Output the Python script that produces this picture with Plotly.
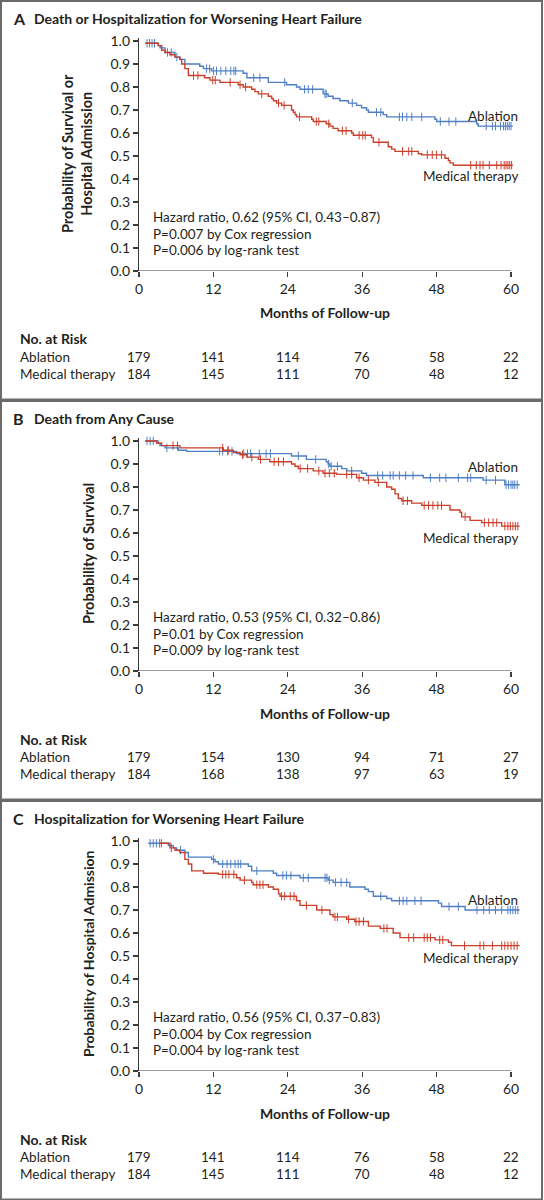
import numpy as np
import plotly.graph_objects as go

# ---------------- data ----------------
month_ticks = [0, 12, 24, 36, 48, 60]
prob_ticks = [0.0, 0.1, 0.2, 0.3, 0.4, 0.5, 0.6, 0.7, 0.8, 0.9, 1.0]
group_names = ["Ablation", "Medical therapy"]

# Panel A: Death or Hospitalization for Worsening Heart Failure
a_abl_t = [1.0, 3.1, 3.4, 4.2, 5.8, 6.6, 7.4, 9.8, 10.4, 11.7, 16.8, 17.4, 20.86, 23.8, 25.4, 25.97,
           29.7, 30.5, 31.3, 32.4, 33.77, 35.1, 35.9, 36.7, 37.0, 39.4, 39.95, 47.74, 48.0, 54.46,
           54.7, 60.3]
a_abl_s = [0.99, 0.98, 0.97, 0.95, 0.93, 0.92, 0.90, 0.89, 0.88, 0.87, 0.86, 0.84, 0.82, 0.81, 0.80,
           0.79, 0.77, 0.76, 0.75, 0.74, 0.73, 0.72, 0.71, 0.70, 0.69, 0.68, 0.67, 0.66, 0.65, 0.64,
           0.63, 0.63]
a_abl_c = [1.3, 1.7, 2.1, 2.5, 4.6, 5.2, 6.1, 10.9, 11.4, 12.0, 12.5, 13.2, 14.0, 14.8, 15.3, 15.6,
           18.5, 19.5, 23.5, 26.7, 27.3, 28.0, 30.0, 30.2, 34.4, 38.3, 39.0, 42.0, 42.5, 43.2, 44.0,
           45.6, 48.6, 50.0, 51.1, 56.0, 57.0, 57.5, 58.3, 58.8, 59.1, 59.4, 59.7, 60.0]
a_med_t = [1.0, 3.1, 3.66, 4.2, 5.0, 5.8, 6.6, 6.88, 7.4, 7.96, 10.6, 11.45, 13.06, 16.0, 16.8,
           18.17, 18.7, 19.25, 20.86, 21.4, 21.67, 22.2, 23.0, 24.6, 24.9, 25.16, 25.4, 27.85, 28.1,
           30.2, 30.8, 31.3, 32.1, 34.3, 34.57, 37.5, 37.8, 40.2, 40.75, 41.3, 45.05, 45.6, 49.35,
           49.9, 50.16, 50.7, 60.3]
a_med_s = [0.99, 0.98, 0.96, 0.95, 0.94, 0.93, 0.92, 0.90, 0.88, 0.85, 0.84, 0.83, 0.82, 0.81, 0.80,
           0.79, 0.78, 0.77, 0.76, 0.75, 0.74, 0.73, 0.72, 0.70, 0.69, 0.68, 0.67, 0.66, 0.65, 0.64,
           0.63, 0.62, 0.61, 0.60, 0.59, 0.58, 0.56, 0.54, 0.53, 0.52, 0.51, 0.505, 0.49, 0.48, 0.47,
           0.46, 0.46]
a_med_c = [8.8, 9.5, 11.9, 12.3, 14.7, 16.3, 17.2, 19.8, 22.5, 23.4, 25.9, 28.6, 29.0, 30.6, 32.8,
           33.4, 35.5, 36.1, 36.5, 38.7, 42.5, 43.5, 44.0, 46.5, 47.3, 48.0, 48.8, 53.5, 54.4, 55.0,
           55.5, 56.5, 57.7, 58.4, 58.9, 59.2, 59.5, 59.8, 60.1]
a_risk_abl = [179, 141, 114, 76, 58, 22]
a_risk_med = [184, 145, 111, 70, 48, 12]

# Panel B: Death from Any Cause
b_abl_t = [1.0, 3.1, 3.4, 4.2, 6.34, 7.7, 15.75, 24.6, 27.0, 30.2, 30.5, 30.8, 32.7, 33.5, 35.9,
           36.7, 45.86, 55.5, 59.0, 61.4]
b_abl_s = [1.0, 0.99, 0.98, 0.97, 0.96, 0.955, 0.945, 0.935, 0.92, 0.91, 0.90, 0.89, 0.88, 0.87,
           0.86, 0.85, 0.84, 0.83, 0.81, 0.81]
b_abl_c = [1.3, 1.8, 2.3, 4.5, 13.0, 13.5, 14.3, 15.0, 16.9, 17.5, 18.0, 19.4, 20.5, 21.2, 25.7,
           28.5, 30.6, 31.0, 32.0, 34.3, 38.5, 39.3, 40.5, 41.0, 42.0, 43.0, 44.2, 47.0, 48.5, 49.5,
           51.5, 53.0, 53.5, 56.0, 57.5, 59.2, 59.6, 60.0, 60.3, 60.6, 61.0]
b_med_t = [1.0, 2.85, 3.66, 6.6, 13.6, 15.2, 16.3, 17.4, 19.25, 21.1, 24.6, 25.16, 25.7, 28.1,
           29.7, 31.9, 35.1, 36.2, 38.06, 39.95, 40.75, 41.3, 41.83, 42.37, 43.98, 45.6, 50.16,
           51.77, 52.04, 53.4, 55.27, 58.5, 61.4]
b_med_s = [1.0, 0.99, 0.98, 0.97, 0.96, 0.95, 0.94, 0.93, 0.92, 0.91, 0.90, 0.89, 0.88, 0.87,
           0.86, 0.855, 0.84, 0.83, 0.82, 0.80, 0.79, 0.77, 0.75, 0.74, 0.73, 0.72, 0.70, 0.69,
           0.67, 0.655, 0.645, 0.63, 0.63]
b_med_c = [5.5, 6.2, 13.5, 14.4, 16.7, 18.2, 19.6, 21.8, 22.5, 23.3, 26.0, 27.2, 29.0, 30.0, 30.7,
           31.5, 33.5, 34.3, 35.5, 37.0, 38.6, 42.6, 43.3, 46.0, 46.7, 47.4, 48.2, 48.8, 52.6, 55.7,
           56.4, 57.1, 57.7, 59.0, 59.5, 59.9, 60.3, 60.7, 61.1]
b_risk_abl = [179, 154, 130, 94, 71, 27]
b_risk_med = [184, 168, 138, 97, 63, 19]

# Panel C: Hospitalization for Worsening Heart Failure
c_abl_t = [1.5, 4.73, 5.54, 6.08, 7.4, 7.96, 11.7, 12.26, 12.8, 17.63, 18.17, 21.67, 22.2, 25.97,
           30.5, 31.3, 34.0, 36.45, 37.0, 37.8, 39.95, 40.75, 48.3, 48.8, 52.6, 61.4]
c_abl_s = [0.99, 0.98, 0.97, 0.96, 0.95, 0.93, 0.92, 0.91, 0.90, 0.89, 0.87, 0.86, 0.85, 0.84,
           0.83, 0.82, 0.80, 0.79, 0.78, 0.76, 0.75, 0.74, 0.73, 0.715, 0.70, 0.70]
c_abl_c = [1.8, 2.3, 2.8, 3.3, 6.7, 12.0, 13.5, 14.2, 14.8, 15.5, 16.0, 16.4, 19.0, 23.2, 23.8,
           24.5, 26.5, 27.3, 30.0, 30.3, 30.7, 31.7, 32.6, 33.5, 39.0, 42.0, 42.6, 43.2, 44.5, 45.5,
           50.0, 51.5, 54.5, 55.6, 56.5, 57.5, 58.5, 59.5, 59.9, 60.3, 60.7, 61.1]
c_med_t = [3.4, 5.0, 5.8, 6.6, 7.4, 7.96, 8.5, 10.4, 12.8, 15.75, 16.3, 18.17, 18.4, 20.86, 21.67,
           22.5, 22.74, 25.4, 25.97, 28.66, 30.8, 31.3, 33.5, 34.8, 37.0, 38.9, 41.0, 42.1, 47.74,
           49.9, 50.4, 61.4]
c_med_s = [0.99, 0.97, 0.96, 0.95, 0.92, 0.90, 0.87, 0.86, 0.855, 0.84, 0.83, 0.82, 0.81, 0.80,
           0.79, 0.77, 0.76, 0.74, 0.72, 0.70, 0.68, 0.67, 0.66, 0.65, 0.63, 0.62, 0.60, 0.58, 0.57,
           0.56, 0.545, 0.545]
c_med_c = [3.6, 5.2, 13.5, 14.0, 14.5, 15.3, 17.0, 19.0, 19.5, 20.0, 23.0, 23.5, 24.4, 25.0, 27.0,
           29.5, 31.6, 32.0, 33.8, 35.0, 35.5, 36.2, 39.5, 40.0, 43.5, 44.3, 46.0, 46.5, 47.0, 48.5,
           49.0, 52.5, 55.0, 55.6, 57.0, 58.5, 59.0, 59.5, 60.0, 60.5, 61.0]
c_risk_abl = [179, 141, 114, 76, 58, 22]
c_risk_med = [184, 145, 111, 70, 48, 12]

panel_letters = ["A", "B", "C"]
panel_titles = ["Death or Hospitalization for Worsening Heart Failure",
                "Death from Any Cause",
                "Hospitalization for Worsening Heart Failure"]
y_titles = ["Probability of Survival or<br>Hospital Admission",
            "Probability of Survival",
            "Probability of Hospital Admission"]
stats_lines = [["Hazard ratio, 0.62 (95% CI, 0.43\u20130.87)", "P=0.007 by Cox regression",
                "P=0.006 by log-rank test"],
               ["Hazard ratio, 0.53 (95% CI, 0.32\u20130.86)", "P=0.01 by Cox regression",
                "P=0.009 by log-rank test"],
               ["Hazard ratio, 0.56 (95% CI, 0.37\u20130.83)", "P=0.004 by Cox regression",
                "P=0.004 by log-rank test"]]
label_y = [[0.675, 0.415], [0.885, 0.58], [0.742, 0.493]]

curves = [((a_abl_t, a_abl_s, a_abl_c), (a_med_t, a_med_s, a_med_c)),
          ((b_abl_t, b_abl_s, b_abl_c), (b_med_t, b_med_s, b_med_c)),
          ((c_abl_t, c_abl_s, c_abl_c), (c_med_t, c_med_s, c_med_c))]
risks = [(a_risk_abl, a_risk_med), (b_risk_abl, b_risk_med), (c_risk_abl, c_risk_med)]

# ---------------- styling / layout ----------------
W, H = 544, 1200
BLUE = "#4f7fc4"
RED = "#cc3f2b"
TXT = "#231f20"
AX = "#3a3a3a"
FONT = "Lato, 'Open Sans', sans-serif"
PANEL_H = 400
X0PX, X60PX = 139.0, 511.0
XMAX = 61.6
Y1REL, Y0REL = 41.0, 271.0
YMAX = 1.012
ppm = (X60PX - X0PX) / 60.0
ppu = (Y0REL - Y1REL) / 1.0


def px(x):
    return x / W


def py(y):
    return 1 - y / H


def xpix(m):
    return X0PX + m * ppm


def step_value(t, s, c):
    t = np.asarray(t)
    s = np.asarray(s)
    idx = np.searchsorted(t, c, side="right") - 1
    idx = np.clip(idx, 0, len(s) - 1)
    return s[idx]


fig = go.Figure()
annotations = []
shapes = []

for i in range(3):
    top = i * PANEL_H
    xa = "x" if i == 0 else f"x{i + 1}"
    ya = "y" if i == 0 else f"y{i + 1}"
    xkey = "xaxis" if i == 0 else f"xaxis{i + 1}"
    ykey = "yaxis" if i == 0 else f"yaxis{i + 1}"

    for (t, s, c), color, name in zip(curves[i], [BLUE, RED], group_names):
        fig.add_trace(go.Scatter(x=t, y=s, mode="lines", line=dict(color=color, width=1.4, shape="hv"),
                                 xaxis=xa, yaxis=ya, showlegend=False, name=name, hoverinfo="skip"))
        cy = step_value(t, s, c)
        fig.add_trace(go.Scatter(x=c, y=cy, mode="markers",
                                 marker=dict(symbol="line-ns", size=6, line=dict(color=color, width=1)),
                                 xaxis=xa, yaxis=ya, showlegend=False, hoverinfo="skip", cliponaxis=False))

    y0px = top + Y0REL
    ytoppx = top + Y1REL - (YMAX - 1.0) * ppu
    fig.update_layout(**{
        xkey: dict(domain=[px(X0PX), px(xpix(XMAX))], range=[0, XMAX], anchor=ya, automargin=False,
                   tickvals=month_ticks, ticks="outside", ticklen=5, tickwidth=1.2, tickcolor=AX,
                   showline=False, showgrid=False, zeroline=False, fixedrange=True,
                   tickfont=dict(family=FONT, size=14, color=TXT)),
        ykey: dict(domain=[py(y0px), py(ytoppx)], range=[0, YMAX], anchor=xa, automargin=False,
                   tickvals=prob_ticks, tickformat=".1f", ticks="outside", ticklen=5, tickwidth=1.2,
                   tickcolor=AX, showline=True, linecolor=AX, linewidth=1.2, showgrid=False,
                   zeroline=False, fixedrange=True, tickfont=dict(family=FONT, size=14, color=TXT)),
    })
    # x axis line only up to 60 months
    shapes.append(dict(type="line", xref=xa, yref=ya, x0=0, x1=60, y0=0, y1=0,
                       line=dict(color=AX, width=1.2)))
    # panel frame
    shapes.append(dict(type="rect", xref="paper", yref="paper", x0=px(1), x1=px(W - 2),
                       y0=py(top + PANEL_H - 0.5), y1=py(top + 1),
                       line=dict(color="#6b6b6b", width=2)))

    # title
    annotations.append(dict(x=px(11), y=py(top + 18), xref="paper", yref="paper", text="<b>" + panel_letters[i] + "</b>",
                            showarrow=False, xanchor="left", yanchor="middle",
                            font=dict(family=FONT, size=16, color=TXT)))
    annotations.append(dict(x=px(32), y=py(top + 18), xref="paper", yref="paper", text="<b>" + panel_titles[i] + "</b>",
                            showarrow=False, xanchor="left", yanchor="middle",
                            font=dict(family=FONT, size=14, color=TXT)))
    # y title
    ytx = 77 if i == 0 else 88
    annotations.append(dict(x=px(ytx), y=py(top + 154), xref="paper", yref="paper", text="<b>" + y_titles[i] + "</b>",
                            showarrow=False, textangle=-90, xanchor="center", yanchor="middle",
                            font=dict(family=FONT, size=14.5 if i < 2 else 14, color=TXT)))
    # x title
    annotations.append(dict(x=px((X0PX + X60PX) / 2), y=py(top + 313), xref="paper", yref="paper",
                            text="<b>Months of Follow-up</b>", showarrow=False, xanchor="center", yanchor="middle",
                            font=dict(family=FONT, size=14, color=TXT)))
    # stats
    for k, line in enumerate(stats_lines[i]):
        annotations.append(dict(x=px(151), y=py(top + 217 + 16.5 * k), xref="paper", yref="paper", text=line,
                                showarrow=False, xanchor="left", yanchor="middle",
                                font=dict(family=FONT, size=13.5, color=TXT)))
    # curve labels
    for name, yv in zip(group_names, label_y[i]):
        annotations.append(dict(x=px(520), y=yv, xref="paper", yref=ya, text=name,
                                showarrow=False, xanchor="right", yanchor="middle",
                                font=dict(family=FONT, size=13.5, color=TXT)))
    # risk table
    annotations.append(dict(x=px(18), y=py(top + 339), xref="paper", yref="paper", text="<b>No. at Risk</b>",
                            showarrow=False, xanchor="left", yanchor="middle",
                            font=dict(family=FONT, size=14, color=TXT)))
    for r, (name, vals) in enumerate(zip(group_names, risks[i])):
        ry = py(top + 357 + 17 * r)
        annotations.append(dict(x=px(18), y=ry, xref="paper", yref="paper", text=name,
                                showarrow=False, xanchor="left", yanchor="middle",
                                font=dict(family=FONT, size=13.5, color=TXT)))
        for m, v in zip(month_ticks, vals):
            annotations.append(dict(x=px(xpix(m)), y=ry, xref="paper", yref="paper", text=str(v),
                                    showarrow=False, xanchor="center", yanchor="middle",
                                    font=dict(family=FONT, size=13.5, color=TXT)))

fig.update_layout(width=W, height=H, margin=dict(l=0, r=0, t=0, b=0, autoexpand=False),
                  paper_bgcolor="white", plot_bgcolor="white",
                  annotations=annotations, shapes=shapes,
                  font=dict(family=FONT, size=13, color=TXT))

fig.write_html("out.html", config={"displayModeBar": False, "staticPlot": True},
               post_script="document.body.style.margin='0';document.body.style.overflow='hidden';")
